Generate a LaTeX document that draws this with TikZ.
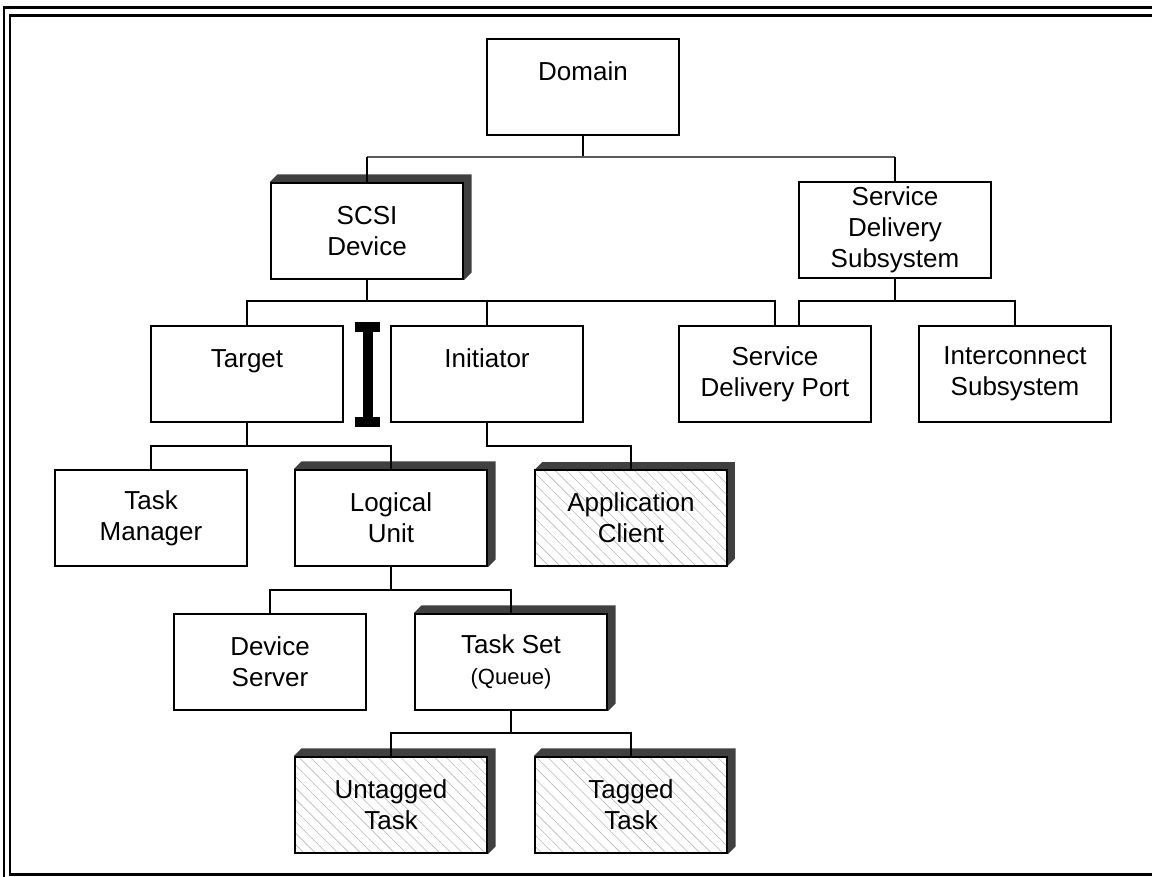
\documentclass[tikz,border=0pt]{standalone}
\usepackage{fontspec}
\setmainfont{Liberation Sans}
\usetikzlibrary{patterns.meta,backgrounds}
% L-shaped raised shadow on the top and right of a box
\newcommand\castshadow[1]{%
  \fill[shadowfill] (#1.north west) -- ++(7.5,-7.5)
    -- ([shift={(7.5,-7.5)}]#1.north east)
    -- ([shift={(7.5,-7.5)}]#1.south east)
    -- (#1.south east) -- (#1.north east) -- cycle;}
\begin{document}
\begin{tikzpicture}[x=1pt,y=-1pt,
  unit/.style={draw, line width=2.2pt, minimum width=192pt, minimum height=96pt,
    inner sep=0pt, align=center, font=\fontsize{26}{31}\selectfont},
  hatched/.style={unit, pattern={Lines[angle=-45,distance=8pt,line width=0.6pt]},
    pattern color=black!28},
  link/.style={line width=1.6pt},
  toplink/.style={line width=1.4pt, draw=black!65},
  shadowfill/.style={fill=black!75},
  framerule/.style={line width=2.5pt}
]
\useasboundingbox (0,0) rectangle (1152,877);

% double frame, running off the right and bottom edges
\begin{scope}
  \clip (0,0) rectangle (1152,877);
  \draw[framerule] (4,900) -- (4,7.7) -- (1170,7.7);
  \draw[framerule] (1170,15.3) -- (10,15.3) -- (10,874.7) -- (1170,874.7);
\end{scope}

% boxes
\node[unit] (dom)    at (583,87)  {Domain\\ \mbox{}};
\node[unit] (scsi)   at (367,231) {SCSI\\Device};
\node[unit] (sds)    at (895,230) {Service\\Delivery\\Subsystem};
\node[unit] (target) at (247,374) {Target\\ \mbox{}};
\node[unit] (init)   at (487,374) {Initiator\\ \mbox{}};
\node[unit] (sdp)    at (775,374) {Service\\Delivery Port};
\node[unit] (ic)     at (1015,374) {Interconnect\\Subsystem};
\node[unit] (tm)     at (151,518) {Task\\Manager};
\node[unit] (lu)     at (391,518) {Logical\\Unit};
\node[hatched] (app) at (631,518) {Application\\Client};
\node[unit] (ds)     at (270,662) {Device\\Server};
\node[unit] (ts)     at (511,662) {Task Set\\{\fontsize{22}{31}\selectfont (Queue)}};
\node[hatched] (ut)  at (391,805) {Untagged\\Task};
\node[hatched] (tt)  at (631,805) {Tagged\\Task};

\begin{scope}[on background layer]
  \castshadow{scsi}
  \castshadow{lu}
  \castshadow{app}
  \castshadow{ts}
  \castshadow{ut}
  \castshadow{tt}
\end{scope}

% bus levels
\coordinate (b0) at (0,157);
\coordinate (b1) at (0,301);
\coordinate (b2) at (0,446);
\coordinate (b3) at (0,590);
\coordinate (b4) at (0,733);
\coordinate (sdpA) at (775,0);
\coordinate (sdpB) at (799,0);

% Domain
\draw[link] (dom.south) -- (dom.south |- b0);
\draw[toplink] (scsi.north |- b0) -- (sds.north |- b0);
\draw[link] (scsi.north |- b0) -- (scsi.north);
\draw[link] (sds.north |- b0) -- (sds.north);

% SCSI Device
\draw[link] (scsi.south) -- (scsi.south |- b1);
\draw[link] (target.north) -- (target.north |- b1) -- (sdpA |- b1) -- (sdpA |- sdp.north);
\draw[link] (init.north) -- (init.north |- b1);

% Service Delivery Subsystem
\draw[link] (sds.south) -- (sds.south |- b1);
\draw[link] (sdpB |- sdp.north) -- (sdpB |- b1) -- (ic.north |- b1) -- (ic.north);

% Target
\draw[link] (target.south) -- (target.south |- b2);
\draw[link] (tm.north) -- (tm.north |- b2) -- (lu.north |- b2) -- (lu.north);

% Initiator
\draw[link] (init.south) -- (init.south |- b2) -- (app.north |- b2) -- (app.north);

% Logical Unit
\draw[link] (lu.south) -- (lu.south |- b3);
\draw[link] (ds.north) -- (ds.north |- b3) -- (ts.north |- b3) -- (ts.north);

% Task Set
\draw[link] (ts.south) -- (ts.south |- b4);
\draw[link] (ut.north) -- (ut.north |- b4) -- (tt.north |- b4) -- (tt.north);

% I-beam between Target and Initiator
\fill (355,322) rectangle (380,332);
\fill (363,332) rectangle (373,417);
\fill (355,417) rectangle (380,427);
\end{tikzpicture}
\end{document}
